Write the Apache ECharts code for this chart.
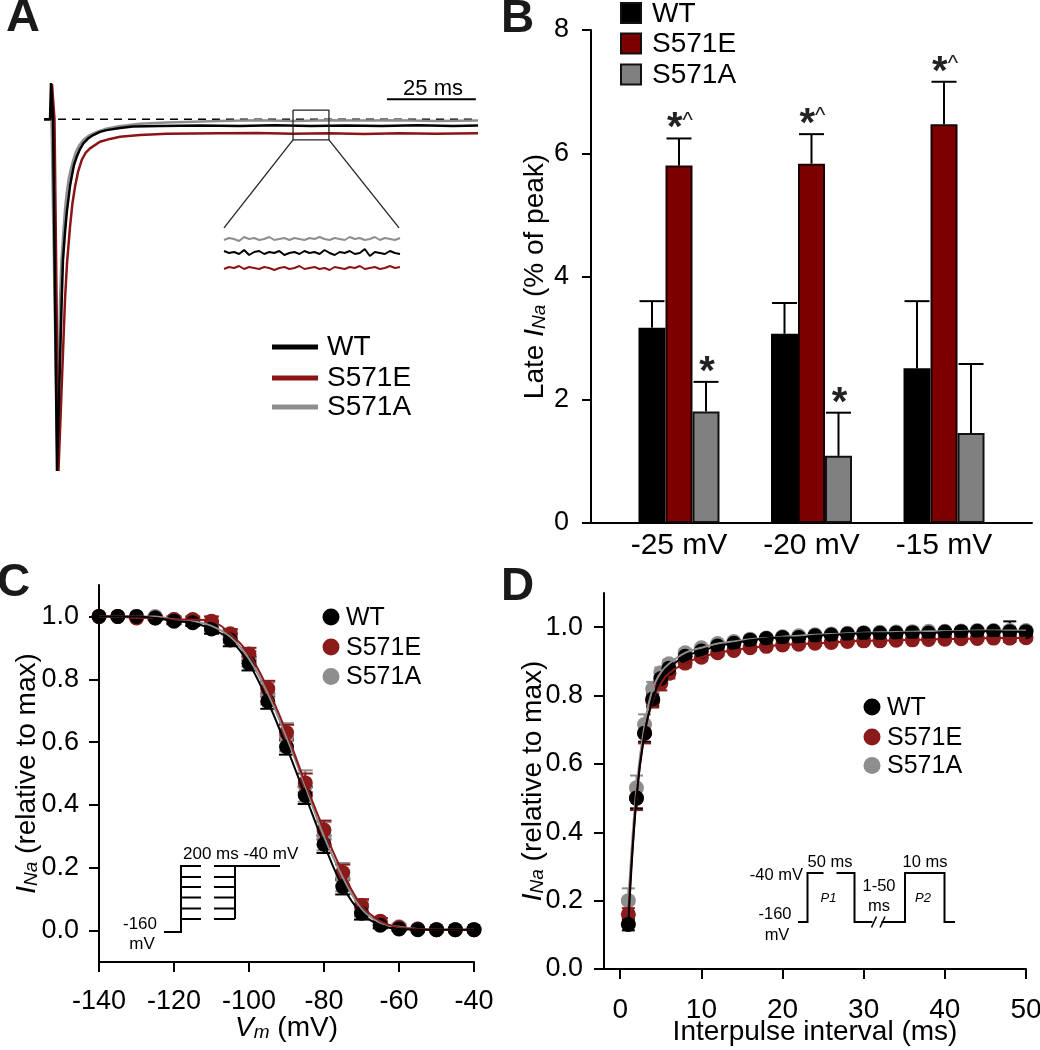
<!DOCTYPE html>
<html>
<head>
<meta charset="utf-8">
<script src="https://cdn.jsdelivr.net/npm/echarts@6/dist/echarts.min.js"></script>
<style>
html, body { margin: 0; padding: 0; background: #fff; }
#chart { width: 1040px; height: 1050px; }
</style>
</head>
<body>
<div id="chart"></div>
<script>
// ---------- data ----------
// Panel A: whole-cell traces, [time ms, current as fraction of peak]
const traceWT = [[0,0],[1.69,0],[1.97,0.103],[2.25,0.103],[2.53,0],[3.65,-1.0],[4.98,-0.514],[5.34,-0.40],[5.9,-0.323],
  [6.47,-0.258],[6.83,-0.23],[7.31,-0.19],[7.79,-0.163],[8.43,-0.13],[9.19,-0.107],[10.12,-0.085],[11.05,-0.069],
  [12.37,-0.055],[13.86,-0.045],[15.74,-0.036],[17.63,-0.031],[21.37,-0.025],[25,-0.021],[32.6,-0.019],[43.9,-0.018],
  [55,-0.019],[65,-0.017],[75,-0.019],[85,-0.018],[95,-0.019],[105,-0.017],[115,-0.019],[122,-0.018]];
const traceS571E = [[0,0],[1.97,0],[2.25,0.1],[2.53,0.1],[2.95,0],[4.08,-1.0],[5.9,-0.514],[6.47,-0.409],[7.31,-0.306],
  [8.01,-0.238],[8.72,-0.192],[9.56,-0.15],[10.6,-0.116],[11.67,-0.096],[12.93,-0.083],[15.74,-0.064],[18.56,-0.056],
  [21.37,-0.05],[26.99,-0.045],[34.5,-0.041],[49.5,-0.04],[60,-0.039],[70,-0.041],[80,-0.04],[90,-0.042],[100,-0.04],
  [110,-0.041],[122,-0.04]];
const traceS571A = [[0,0],[2.11,0],[2.67,0],[3.8,-1.0],[4.5,-0.514],[4.92,-0.40],[5.43,-0.323],[5.9,-0.258],[6.38,-0.21],
  [6.89,-0.173],[7.51,-0.144],[8.15,-0.119],[8.99,-0.092],[9.98,-0.073],[11.05,-0.059],[12.65,-0.046],[14.82,-0.036],
  [17.15,-0.028],[20.44,-0.021],[26.99,-0.013],[34.5,-0.009],[49.5,-0.005],[60,-0.003],[70,-0.005],[80,-0.003],
  [90,-0.004],[100,-0.003],[110,-0.005],[122,-0.004]];
// magnified stretch (arbitrary units)
const insetWT = [27,25,26,24,28,23,26,27,24,26,25,27,23,25,26,24,27,25,26,24,28,25,23,26,25,27,24,25,29,22,26,25,24,27,25,24];
const insetS571E = [9,11,10,12,9,11,10,9,11,10,8,10,11,9,10,12,9,10,11,9,10,8,11,10,9,11,10,12,9,10,11,9,10,12,10,11];
const insetS571A = [38,40,39,37,41,39,40,38,39,41,38,39,40,38,40,39,38,40,39,41,39,38,40,39,38,41,39,40,38,39,41,38,40,39,38,40];
const zoomBox = [[70,0.026],[80.1,0.026],[80.1,-0.059],[70,-0.059],[70,0.026]];
const zoomLeft = [[70,-0.059],[50.6,-0.309]];
const zoomRight = [[80.1,-0.059],[99.8,-0.309]];
const scaleBar = [[96.4,0.057],[121.4,0.057]];

// Panel B: late INa (% of peak)
const stepsB = ['-25 mV', '-20 mV', '-15 mV'];
const posB = [1, 2, 3];
const wtB = [3.17, 3.07, 2.51];
const wtBErr = [0.43, 0.50, 1.09];
const s571eB = [5.80, 5.83, 6.47];
const s571eBErr = [0.44, 0.48, 0.69];
const s571aB = [1.81, 1.09, 1.46];
const s571aBErr = [0.48, 0.70, 1.12];
const sigE = ['*^', '*^', '*^'];
const sigA = ['*', '*', ''];

// Panel C: steady-state inactivation
const vmC = [-140,-135,-130,-125,-120,-115,-110,-105,-100,-95,-90,-85,-80,-75,-70,-65,-60,-55,-50,-45,-40];
const wtC = [1.0,1.0,1.0,0.995,0.985,0.98,0.96,0.925,0.85,0.73,0.585,0.43,0.275,0.14,0.055,0.017,0.005,0.003,0.003,0.003,0.003];
const wtCErr = [0,0,0,0.005,0.01,0.01,0.015,0.02,0.022,0.024,0.025,0.027,0.028,0.025,0.02,0.01,0.005,0,0,0,0];
const s571eC = [1.0,1.0,0.995,0.995,0.99,0.99,0.985,0.945,0.88,0.77,0.63,0.47,0.32,0.185,0.08,0.03,0.01,0.005,0.003,0.003,0.003];
const s571eCErr = [0,0,0,0.005,0.01,0.01,0.015,0.015,0.02,0.025,0.025,0.03,0.03,0.025,0.02,0.01,0.005,0,0,0,0];
const s571aC = [1.0,1.0,1.0,1.0,0.99,0.985,0.97,0.935,0.865,0.755,0.615,0.46,0.30,0.17,0.07,0.025,0.012,0.005,0.003,0.003,0.003];
const s571aCErr = [0,0,0,0.005,0.01,0.01,0.015,0.02,0.025,0.035,0.045,0.05,0.045,0.045,0.025,0.015,0.01,0,0,0,0];
const ticksC = [0, 0.2, 0.4, 0.6, 0.8, 1.0];

// Panel D: recovery from inactivation
const ipiD = [1,2,3,4,5,6,8,10,12,14,16,18,20,22,24,26,28,30,32,34,36,38,40,42,44,46,48,50];
const wtD = [0.13,0.50,0.69,0.79,0.85,0.88,0.915,0.93,0.945,0.953,0.962,0.967,0.97,0.97,0.975,0.977,0.98,0.982,0.982,0.983,0.984,0.983,0.986,0.987,0.988,0.988,0.987,0.987];
const wtDErr = [0.017,0.03,0.025,0.02,0.015,0.01,0.01,0.008,0.006,0.005,0.005,0.005,0.005,0.005,0.005,0.005,0.005,0.005,0.005,0.005,0.005,0.005,0.005,0.005,0.005,0.005,0.03,0.005];
const s571eD = [0.16,0.50,0.69,0.785,0.835,0.865,0.895,0.912,0.925,0.932,0.94,0.944,0.948,0.95,0.953,0.955,0.958,0.96,0.96,0.962,0.963,0.964,0.965,0.966,0.967,0.968,0.968,0.969];
const s571eDErr = [0.018,0.035,0.03,0.02,0.02,0.015,0.012,0.01,0.008,0.006,0.006,0.006,0.006,0.006,0.006,0.006,0.006,0.006,0.006,0.006,0.006,0.006,0.006,0.006,0.006,0.006,0.006,0.006];
const s571aD = [0.20,0.53,0.715,0.82,0.867,0.893,0.925,0.94,0.952,0.958,0.965,0.968,0.972,0.975,0.978,0.98,0.982,0.984,0.985,0.986,0.987,0.988,0.988,0.989,0.99,0.99,0.99,0.99];
const s571aDErr = [0.036,0.036,0.03,0.02,0.015,0.012,0.01,0.008,0.006,0.005,0.005,0.005,0.005,0.005,0.005,0.005,0.005,0.005,0.005,0.005,0.005,0.005,0.005,0.005,0.005,0.005,0.005,0.005];
const ticksDx = [0, 10, 20, 30, 40, 50];
const ticksDy = [0, 0.2, 0.4, 0.6, 0.8, 1.0];

// ---------- style ----------
const FONT = '"Liberation Sans", Arial, sans-serif';
const BLACK = '#000';
const RED = '#7d0000';
const RED_DOT = '#8b1a1a';
const GRAY = '#808080';
const GRAY_DOT = '#8e8e8e';

const chart = echarts.init(document.getElementById('chart'));

const pairs = (xs, ys) => xs.map((x, i) => [x, ys[i]]);
const triples = (xs, ys, es) => xs.map((x, i) => [x, ys[i], es[i]]);
const idx = (ys) => ys.map((y, i) => [i, y]);

function errItem(capW) {
  return function (params, api) {
    const x = api.value(0), y = api.value(1), e = api.value(2);
    if (!e) return null;
    const hi = api.coord([x, y + e]);
    const lo = api.coord([x, y - e]);
    const st = { stroke: api.visual('color'), lineWidth: 2 };
    return {
      type: 'group',
      children: [
        { type: 'line', shape: { x1: hi[0], y1: hi[1], x2: lo[0], y2: lo[1] }, style: st },
        { type: 'line', shape: { x1: hi[0] - capW / 2, y1: hi[1], x2: hi[0] + capW / 2, y2: hi[1] }, style: st },
        { type: 'line', shape: { x1: lo[0] - capW / 2, y1: lo[1], x2: lo[0] + capW / 2, y2: lo[1] }, style: st }
      ]
    };
  };
}

// upper-only error bar for a bar drawn at a pixel offset inside its group, plus significance marks
function barErrItem(offset, sig) {
  return function (params, api) {
    const x = api.value(0), y = api.value(1), e = api.value(2);
    const top = api.coord([x, y]);
    const hi = api.coord([x, y + e]);
    const cx = top[0] + offset;
    const st = { stroke: BLACK, lineWidth: 2 };
    const children = [
      { type: 'line', shape: { x1: cx, y1: top[1], x2: cx, y2: hi[1] }, style: st },
      { type: 'line', shape: { x1: cx - 12.5, y1: hi[1], x2: cx + 12.5, y2: hi[1] }, style: st }
    ];
    const s = sig[params.dataIndex];
    if (s) {
      children.push({
        type: 'text', x: cx + 1, y: hi[1] - 9,
        style: {
          text: s.split('').map(c => c === '*' ? '{a|*}' : '{b|^}').join(''),
          align: 'center', verticalAlign: 'middle', fill: '#222',
          rich: {
            a: { fontSize: 40, fontWeight: 'bold', fontFamily: FONT, fill: '#222' },
            b: { fontSize: 22, fontFamily: FONT, fill: '#222', verticalAlign: 'top' }
          }
        }
      });
    }
    return { type: 'group', children };
  };
}

const axisLine = { show: true, onZero: false, lineStyle: { color: BLACK, width: 2 } };
const axisTick = { show: true, length: 10, lineStyle: { color: BLACK, width: 2 } };
const nameRich = (size) => ({
  color: BLACK, fontSize: size, fontFamily: FONT,
  rich: {
    i: { fontStyle: 'italic', fontSize: size, fontFamily: FONT, color: BLACK },
    s: { fontStyle: 'italic', fontSize: Math.round(size * 0.68), fontFamily: FONT, color: BLACK, verticalAlign: 'bottom' }
  }
});

const hidden = { show: false };

const option = {
  backgroundColor: '#fff',
  animation: false,
  grid: [
    { left: 44, top: 77, width: 434, height: 394, outerBoundsMode: 'none' },   // A traces
    { left: 224, top: 228, width: 176, height: 50, outerBoundsMode: 'none' },  // A inset
    { left: 591, top: 30, width: 441, height: 493, outerBoundsMode: 'none' },  // B
    { left: 99, top: 585, width: 375, height: 377, outerBoundsMode: 'none' },  // C
    { left: 604, top: 593, width: 422, height: 376, outerBoundsMode: 'none' }  // D
  ],
  xAxis: [
    { gridIndex: 0, type: 'value', min: 0, max: 122, axisLine: hidden, axisTick: hidden, axisLabel: hidden, splitLine: hidden },
    { gridIndex: 1, type: 'value', min: 0, max: 35, axisLine: hidden, axisTick: hidden, axisLabel: hidden, splitLine: hidden },
    {
      gridIndex: 2, type: 'value', min: 0.336, max: 3.664,
      axisLine, axisTick: { show: false }, splitLine: hidden,
      axisLabel: {
        customValues: posB, margin: 8, color: BLACK, fontSize: 30, fontFamily: FONT,
        formatter: (v) => stepsB[Math.round(v) - 1]
      }
    },
    {
      gridIndex: 3, type: 'value', min: -140, max: -40, interval: 20,
      axisLine, axisTick, splitLine: hidden,
      axisLabel: { margin: 26, color: BLACK, fontSize: 27, fontFamily: FONT },
      name: '{i|V}{s|m} (mV)', nameLocation: 'middle', nameGap: 52, nameMoveOverlap: false, nameTextStyle: nameRich(28)
    },
    {
      gridIndex: 4, type: 'value', min: -2, max: 50,
      axisLine, splitLine: hidden,
      axisTick: { ...axisTick, customValues: ticksDx },
      axisLabel: { customValues: ticksDx, margin: 27, color: BLACK, fontSize: 28, fontFamily: FONT },
      name: 'Interpulse interval (ms)', nameLocation: 'middle', nameGap: 49, nameMoveOverlap: false,
      nameTextStyle: { color: BLACK, fontSize: 28, fontFamily: FONT }
    }
  ],
  yAxis: [
    { gridIndex: 0, type: 'value', min: -1, max: 0.12, axisLine: hidden, axisTick: hidden, axisLabel: hidden, splitLine: hidden },
    { gridIndex: 1, type: 'value', min: 0, max: 50, axisLine: hidden, axisTick: hidden, axisLabel: hidden, splitLine: hidden },
    {
      gridIndex: 2, type: 'value', min: 0, max: 8, interval: 2,
      axisLine, axisTick: { ...axisTick, length: 9 }, splitLine: hidden,
      axisLabel: { margin: 22, color: BLACK, fontSize: 27, fontFamily: FONT },
      name: 'Late {i|I}{s|Na} (% of peak)', nameLocation: 'middle', nameRotate: 90, nameGap: 42, nameMoveOverlap: false,
      nameTextStyle: nameRich(28)
    },
    {
      gridIndex: 3, type: 'value', min: -0.1, max: 1.1,
      axisLine, splitLine: hidden,
      axisTick: { ...axisTick, customValues: ticksC },
      axisLabel: { customValues: ticksC, margin: 20, color: BLACK, fontSize: 27, fontFamily: FONT, formatter: (v) => v.toFixed(1) },
      name: '{i|I}{s|Na} (relative to max)', nameLocation: 'middle', nameRotate: 90, nameGap: 58, nameMoveOverlap: false,
      nameTextStyle: nameRich(28)
    },
    {
      gridIndex: 4, type: 'value', min: 0, max: 1.1,
      axisLine, splitLine: hidden,
      axisTick: { ...axisTick, customValues: ticksDy },
      axisLabel: { customValues: ticksDy, margin: 21, color: BLACK, fontSize: 27, fontFamily: FONT, formatter: (v) => v.toFixed(1) },
      name: '{i|I}{s|Na} (relative to max)', nameLocation: 'middle', nameRotate: 90, nameGap: 57, nameMoveOverlap: false,
      nameTextStyle: nameRich(28)
    }
  ],
  series: [
    // ---- A ----
    { type: 'line', xAxisIndex: 0, yAxisIndex: 0, data: [[0, 0], [122, 0]], symbol: 'none',
      lineStyle: { color: BLACK, width: 1.5, type: [8, 6] } },
    { type: 'line', xAxisIndex: 0, yAxisIndex: 0, data: traceS571A, symbol: 'none', lineStyle: { color: GRAY_DOT, width: 2.5 } },
    { type: 'line', xAxisIndex: 0, yAxisIndex: 0, data: traceS571E, symbol: 'none', lineStyle: { color: '#8b1515', width: 2.5 } },
    { type: 'line', xAxisIndex: 0, yAxisIndex: 0, data: traceWT, symbol: 'none', lineStyle: { color: BLACK, width: 2.5 } },
    { type: 'line', xAxisIndex: 0, yAxisIndex: 0, data: zoomBox, symbol: 'none', lineStyle: { color: '#222', width: 1.3 } },
    { type: 'line', xAxisIndex: 0, yAxisIndex: 0, data: zoomLeft, symbol: 'none', lineStyle: { color: '#222', width: 1.3 } },
    { type: 'line', xAxisIndex: 0, yAxisIndex: 0, data: zoomRight, symbol: 'none', lineStyle: { color: '#222', width: 1.3 } },
    { type: 'line', xAxisIndex: 0, yAxisIndex: 0, data: scaleBar, symbol: 'none', lineStyle: { color: BLACK, width: 2 } },
    { type: 'line', xAxisIndex: 1, yAxisIndex: 1, data: idx(insetS571A), symbol: 'none', lineStyle: { color: GRAY_DOT, width: 2 } },
    { type: 'line', xAxisIndex: 1, yAxisIndex: 1, data: idx(insetWT), symbol: 'none', lineStyle: { color: BLACK, width: 2 } },
    { type: 'line', xAxisIndex: 1, yAxisIndex: 1, data: idx(insetS571E), symbol: 'none', lineStyle: { color: '#8b1515', width: 2 } },

    // ---- B ----
    { type: 'bar', xAxisIndex: 2, yAxisIndex: 2, data: pairs(posB, wtB), barWidth: 27, barGap: '0%',
      itemStyle: { color: BLACK, borderColor: BLACK, borderWidth: 2 } },
    { type: 'bar', xAxisIndex: 2, yAxisIndex: 2, data: pairs(posB, s571eB), barWidth: 27, barGap: '0%',
      itemStyle: { color: RED, borderColor: '#1a0000', borderWidth: 2 } },
    { type: 'bar', xAxisIndex: 2, yAxisIndex: 2, data: pairs(posB, s571aB), barWidth: 27, barGap: '0%',
      itemStyle: { color: GRAY, borderColor: '#111', borderWidth: 2 } },
    { type: 'custom', xAxisIndex: 2, yAxisIndex: 2, data: triples(posB, wtB, wtBErr), renderItem: barErrItem(-27, ['', '', '']), z: 3 },
    { type: 'custom', xAxisIndex: 2, yAxisIndex: 2, data: triples(posB, s571eB, s571eBErr), renderItem: barErrItem(0, sigE), z: 3 },
    { type: 'custom', xAxisIndex: 2, yAxisIndex: 2, data: triples(posB, s571aB, s571aBErr), renderItem: barErrItem(27, sigA), z: 3 },

    // ---- C ----
    { type: 'line', xAxisIndex: 3, yAxisIndex: 3, data: pairs(vmC, s571aC), smooth: 0.4, symbol: 'none', lineStyle: { color: GRAY_DOT, width: 2 } },
    { type: 'line', xAxisIndex: 3, yAxisIndex: 3, data: pairs(vmC, s571eC), smooth: 0.4, symbol: 'none', lineStyle: { color: RED_DOT, width: 2 } },
    { type: 'custom', xAxisIndex: 3, yAxisIndex: 3, data: triples(vmC, s571aC, s571aCErr), renderItem: errItem(15), itemStyle: { color: GRAY_DOT } },
    { type: 'scatter', xAxisIndex: 3, yAxisIndex: 3, data: pairs(vmC, s571aC), symbolSize: 15, itemStyle: { color: GRAY_DOT, opacity: 1 } },
    { type: 'custom', xAxisIndex: 3, yAxisIndex: 3, data: triples(vmC, s571eC, s571eCErr), renderItem: errItem(15), itemStyle: { color: RED_DOT } },
    { type: 'scatter', xAxisIndex: 3, yAxisIndex: 3, data: pairs(vmC, s571eC), symbolSize: 15, itemStyle: { color: RED_DOT, opacity: 1 } },
    { type: 'line', xAxisIndex: 3, yAxisIndex: 3, data: pairs(vmC, wtC), smooth: 0.4, symbol: 'none', lineStyle: { color: BLACK, width: 2 } },
    { type: 'custom', xAxisIndex: 3, yAxisIndex: 3, data: triples(vmC, wtC, wtCErr), renderItem: errItem(15), itemStyle: { color: BLACK } },
    { type: 'scatter', xAxisIndex: 3, yAxisIndex: 3, data: pairs(vmC, wtC), symbolSize: 15, itemStyle: { color: BLACK, opacity: 1 } },

    // ---- D ----
    { type: 'line', xAxisIndex: 4, yAxisIndex: 4, data: pairs(ipiD, s571aD), smooth: 0.4, symbol: 'none', lineStyle: { color: GRAY_DOT, width: 2 } },
    { type: 'line', xAxisIndex: 4, yAxisIndex: 4, data: pairs(ipiD, s571eD), smooth: 0.4, symbol: 'none', lineStyle: { color: RED_DOT, width: 2 } },
    { type: 'custom', xAxisIndex: 4, yAxisIndex: 4, data: triples(ipiD, s571aD, s571aDErr), renderItem: errItem(13), itemStyle: { color: GRAY_DOT } },
    { type: 'scatter', xAxisIndex: 4, yAxisIndex: 4, data: pairs(ipiD, s571aD), symbolSize: 15, itemStyle: { color: GRAY_DOT, opacity: 1 } },
    { type: 'custom', xAxisIndex: 4, yAxisIndex: 4, data: triples(ipiD, s571eD, s571eDErr), renderItem: errItem(13), itemStyle: { color: RED_DOT } },
    { type: 'scatter', xAxisIndex: 4, yAxisIndex: 4, data: pairs(ipiD, s571eD), symbolSize: 15, itemStyle: { color: RED_DOT, opacity: 1 } },
    { type: 'line', xAxisIndex: 4, yAxisIndex: 4, data: pairs(ipiD, wtD), smooth: 0.4, symbol: 'none', lineStyle: { color: BLACK, width: 2 } },
    { type: 'custom', xAxisIndex: 4, yAxisIndex: 4, data: triples(ipiD, wtD, wtDErr), renderItem: errItem(13), itemStyle: { color: BLACK } },
    { type: 'scatter', xAxisIndex: 4, yAxisIndex: 4, data: pairs(ipiD, wtD), symbolSize: 15, itemStyle: { color: BLACK, opacity: 1 } }
  ],
  graphic: { elements: [] }
};

// ---------- annotations (letters, legends, protocol sketches) ----------
const g = option.graphic.elements;
const txt = (text, x, y, size, extra) => g.push({
  type: 'text', x, y, silent: true,
  style: Object.assign({ text, fill: BLACK, fontSize: size, fontFamily: FONT, align: 'left', verticalAlign: 'middle' }, extra || {})
});
const seg = (pts, w, color) => g.push({
  type: 'polyline', silent: true, shape: { points: pts }, style: { stroke: color || BLACK, lineWidth: w || 2, fill: null }
});

// panel letters
txt('A', 6, 18, 47, { fontWeight: 'bold', fill: '#1a1a1a' });
txt('B', 501, 19, 46, { fontWeight: 'bold', fill: '#1a1a1a' });
txt('C', -3, 583, 46, { fontWeight: 'bold', fill: '#1a1a1a' });
txt('D', 501, 587, 46, { fontWeight: 'bold', fill: '#1a1a1a' });

// A: scale bar text and legend
txt('25 ms', 433, 89, 22, { align: 'center' });
const legA = [['WT', BLACK, 347], ['S571E', '#8b1515', 378], ['S571A', GRAY_DOT, 407]];
legA.forEach(([n, c, y]) => { seg([[272, y], [318, y]], 5, c); txt(n, 327, y, 28); });

// B legend
const legB = [['WT', BLACK, 13], ['S571E', RED, 43.5], ['S571A', GRAY, 74.5]];
legB.forEach(([n, c, y]) => {
  g.push({ type: 'rect', silent: true, shape: { x: 621, y: y - 10, width: 20, height: 20 }, style: { fill: c, stroke: '#111', lineWidth: 2 } });
  txt(n, 652, y + 1, 28);
});

// C and D legends
const circleLegend = (cx, tx, ys, size) => {
  [['WT', BLACK], ['S571E', RED_DOT], ['S571A', GRAY_DOT]].forEach(([n, c], i) => {
    g.push({ type: 'circle', silent: true, shape: { cx, cy: ys[i], r: 8.5 }, style: { fill: c } });
    txt(n, tx, ys[i] + 1, size);
  });
};
circleLegend(331, 346, [617, 647, 676.5], 25);
circleLegend(872, 887, [707, 737, 765.5], 25);

// C protocol sketch
seg([[164, 932], [181, 932], [181, 866], [201, 866]]);
[877, 887, 897.5, 908.5, 919].forEach(y => seg([[181, y], [201, y]]));
[866, 877, 887, 897.5, 908.5, 919].forEach(y => seg([[214, y], [235, y]]));
seg([[235, 919], [235, 866], [280, 866]]);
txt('200 ms -40 mV', 183, 854, 17);
txt('-160', 140, 924, 17, { align: 'center' });
txt('mV', 142, 944, 17, { align: 'center' });

// D protocol sketch
seg([[798, 922], [807.5, 922], [807.5, 873], [823.5, 873]]);
seg([[836.5, 873], [854.5, 873], [854.5, 922], [872.5, 922]]);
seg([[871.5, 927.5], [876.5, 916.5]], 1.5);
seg([[880, 927.5], [885, 916.5]], 1.5);
seg([[881.5, 922], [905, 922], [905, 873], [944.5, 873], [944.5, 922], [955, 922]]);
txt('-40 mV', 803, 875, 16.5, { align: 'right' });
txt('-160', 775, 914, 16.5, { align: 'center' });
txt('mV', 777, 935, 16.5, { align: 'center' });
txt('50 ms', 830, 862, 16.5, { align: 'center' });
txt('10 ms', 925, 862, 16.5, { align: 'center' });
txt('P1', 828.5, 898, 13, { align: 'center', fontStyle: 'italic' });
txt('P2', 923, 898, 13, { align: 'center', fontStyle: 'italic' });
txt('1-50', 879, 886, 16.5, { align: 'center' });
txt('ms', 879, 906, 16.5, { align: 'center' });

chart.setOption(option);
</script>
</body>
</html>
